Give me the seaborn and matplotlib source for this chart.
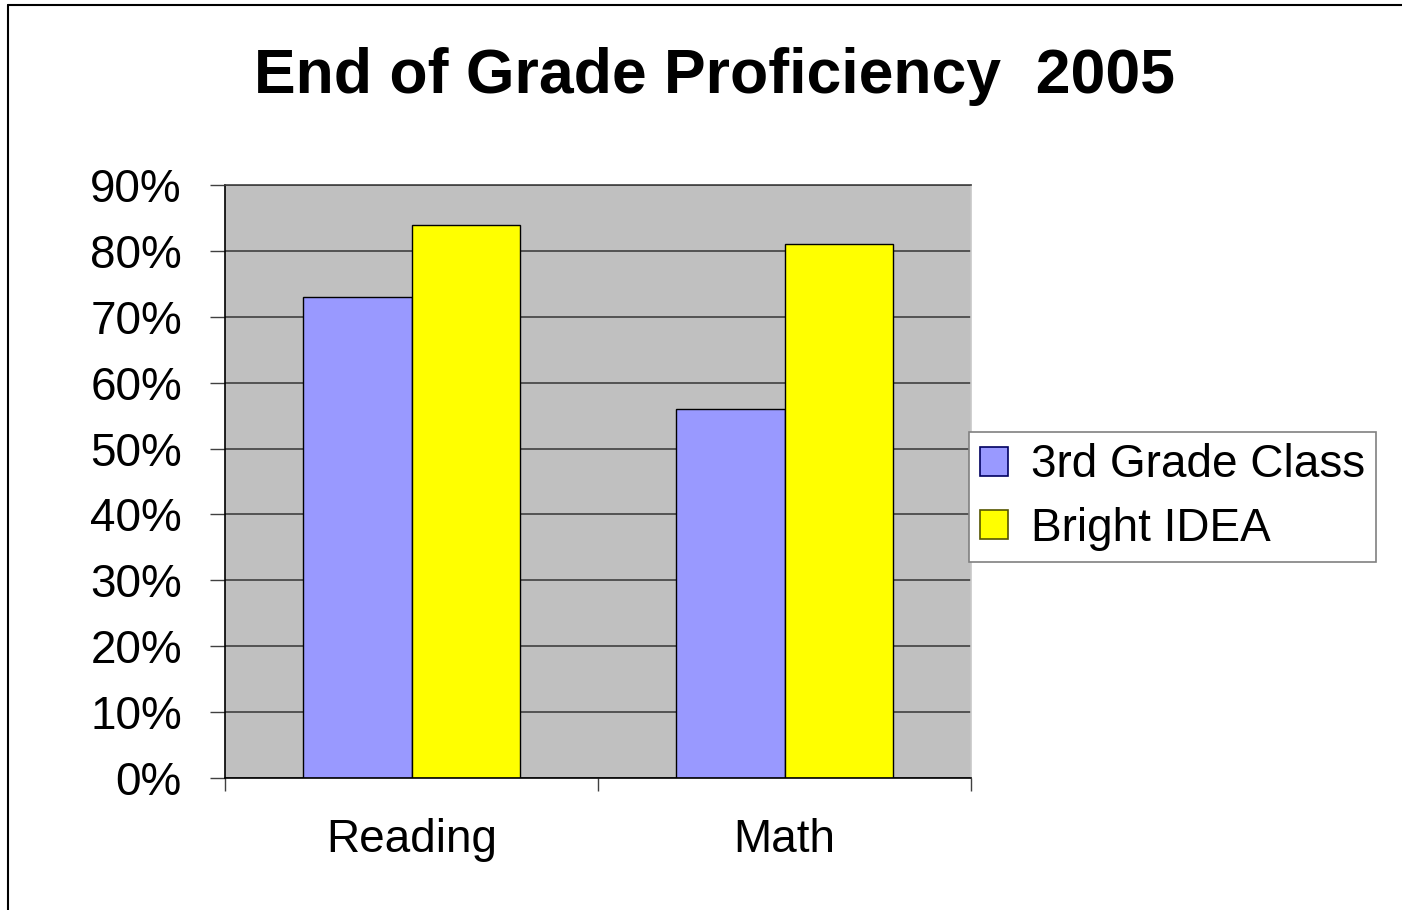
import matplotlib
matplotlib.use("Agg")
import matplotlib.pyplot as plt
import matplotlib.ticker as mticker
from matplotlib.lines import Line2D
from matplotlib.patches import Patch
import seaborn as sns
import pandas as pd

categories = ["Reading", "Math"]
series_names = ["3rd Grade Class", "Bright IDEA"]
third_grade = [0.73, 0.56]
bright_idea = [0.84, 0.81]
title_text = "End of Grade Proficiency  2005"

colors = ["#9999FF", "#FFFF00"]

df = pd.DataFrame({
    "Subject": categories * 2,
    "Series": [series_names[0]] * 2 + [series_names[1]] * 2,
    "Value": third_grade + bright_idea,
})

sns.set_theme(style="white")
plt.rcParams["font.family"] = ["Liberation Sans", "DejaVu Sans"]
plt.rcParams["text.color"] = "black"

W, H = 1402, 910
fig = plt.figure(figsize=(W / 100, H / 100), dpi=100)
fig.patch.set_facecolor("white")

ax = fig.add_axes([225 / W, (H - 778) / H, (971 - 225) / W, (778 - 185) / H])
ax.set_facecolor("#C0C0C0")
ax.set_axisbelow(True)

sns.barplot(data=df, x="Subject", y="Value", hue="Series", order=categories,
            hue_order=series_names, palette=colors, width=0.58, gap=0,
            edgecolor="black", linewidth=1.0, ax=ax, legend=False, saturation=1)

ax.set_xlim(-0.5, 1.5)
ax.set_ylim(0, 0.9)
ax.yaxis.set_major_locator(mticker.MultipleLocator(0.1))
ax.yaxis.set_major_formatter(mticker.PercentFormatter(1.0, decimals=0))
ax.grid(axis="y", color="#404040", linewidth=1.2)
ax.grid(axis="x", visible=False)

ax.set_xlabel("")
ax.set_ylabel("")
ax.tick_params(axis="y", direction="out", length=11, width=1, color="#404040",
               labelsize=33, pad=20, left=True, labelcolor="black")
ax.tick_params(axis="x", which="major", length=0, labelsize=33, pad=29, labelcolor="black")
ax.set_xticks([-0.5, 0.5, 1.5], minor=True)
ax.tick_params(axis="x", which="minor", direction="out", length=9, width=1,
               color="#404040", bottom=True)

for side in ["left", "bottom"]:
    ax.spines[side].set_color("black")
    ax.spines[side].set_linewidth(1.2)
ax.spines["top"].set_color("#404040")
ax.spines["top"].set_linewidth(1.2)
ax.spines["right"].set_color("#C8C8C8")
ax.spines["right"].set_linewidth(1.2)

fig.text(715 / W, 1 - 76 / H, title_text, ha="center", va="center",
         fontsize=45, fontweight="bold", color="black")

handles = [Patch(facecolor=colors[0], edgecolor="#000060", linewidth=1.2),
           Patch(facecolor=colors[1], edgecolor="#555500", linewidth=1.2)]
leg = fig.legend(handles, series_names, loc="upper left",
                 bbox_to_anchor=(969 / W, 1 - 432 / H), fontsize=33,
                 frameon=True, fancybox=False, framealpha=1, edgecolor="#808080",
                 handlelength=0.6, handleheight=0.6, handletextpad=0.5,
                 borderpad=0.25, labelspacing=0.42, borderaxespad=0)
leg.get_frame().set_linewidth(1.2)
for t in leg.get_texts():
    t.set_color("black")

fig.add_artist(Line2D([8 / W, 1.0], [1 - 5 / H, 1 - 5 / H], color="black",
                      linewidth=1.5, transform=fig.transFigure))
fig.add_artist(Line2D([8 / W, 8 / W], [0, 1 - 5 / H], color="black",
                      linewidth=1.5, transform=fig.transFigure))

fig.savefig("out.png", dpi=100)
